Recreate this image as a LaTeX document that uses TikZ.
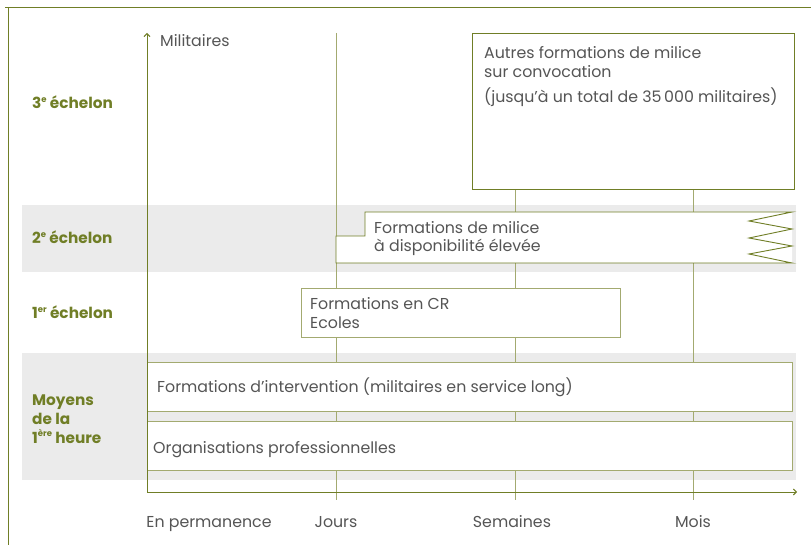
\documentclass[tikz,border=0pt]{standalone}
\usepackage{fontspec}
\setmainfont{Poppins}
\usetikzlibrary{arrows.meta}
\definecolor{oliveD}{RGB}{112,126,38}
\definecolor{oliveL}{RGB}{163,170,112}
\definecolor{band}{RGB}{235,235,235}
\definecolor{txt}{RGB}{85,85,85}
\newcommand{\mysup}[1]{\raisebox{0.42em}{\fontsize{8.5}{9}\selectfont #1}}
\begin{document}
\begin{tikzpicture}[x=1pt,y=-1pt,
  frameline/.style={draw=oliveD,line width=1pt},
  gridline/.style={draw=oliveL,line width=0.9pt},
  boxD/.style={draw=oliveD,line width=0.9pt,fill=white,inner sep=0pt,anchor=north west},
  boxL/.style={draw=oliveL,line width=0.9pt,fill=white,inner sep=0pt,anchor=north west},
  lbl/.style={text=txt,font=\fontsize{15.8}{18}\selectfont,inner sep=0pt,anchor=base west},
  ech/.style={text=oliveD,font=\fontsize{15.3}{18}\selectfont\bfseries,inner sep=0pt,anchor=base west},
  axlbl/.style={text=txt,font=\fontsize{15.8}{18}\selectfont,inner sep=0pt,anchor=base}]
\useasboundingbox (0,0) rectangle (811,545);
% frame
\draw[frameline] (5,8) -- (811,8);
\draw[frameline] (8,8) -- (8,545);
% grey bands
\fill[band] (22,205) rectangle (796,272);
\fill[band] (22,353) rectangle (796,480);
% grid lines
\coordinate (g1t) at (336,33);
\coordinate (g1b) at (336,500);
\coordinate (g2t) at (515,189);
\coordinate (g2b) at (515,500);
\coordinate (g3t) at (693,189);
\coordinate (g3b) at (693,500);
\draw[gridline] (g1t) -- (g1b);
\draw[gridline] (g2t) -- (g2b);
\draw[gridline] (g3t) -- (g3b);
% boxes
\node[boxD,minimum width=322pt,minimum height=156pt] (b3) at (472,33) {};
\fill[white] (336,236) -- (365,236) -- (365,212) -- (792,212) -- (792,263) -- (336,263) -- cycle;
\draw[oliveD,line width=0.9pt,line join=miter] (336,236) -- (365,236) -- (365,212) -- (792,212)
  -- (749,221) -- (792,229) -- (749,238) -- (792,246) -- (749,254) -- (792,263) -- (336,263) -- cycle;
\node[boxL,minimum width=319pt,minimum height=49pt] (b1) at (301,288) {};
\node[boxL,minimum width=645pt,minimum height=49pt] (bi) at (147,362) {};
\node[boxL,minimum width=645pt,minimum height=49pt] (bo) at (147,421) {};
% axes
\coordinate (o) at (147,492);
\coordinate (ytop) at (147,33);
\coordinate (xend) at (797,492);
\draw[frameline,line width=0.9pt,-{Straight Barb[length=3pt,width=6pt]}] (o) -- (ytop);
\draw[frameline,line width=0.9pt,-{Straight Barb[length=3pt,width=6pt]}] (o) -- (xend);
% texts
\node[lbl] (tmil) at (160,47) {Militaires};
\node[lbl] (t3a) at (484,59) {Autres formations de milice};
\node[lbl] (t3b) at (484,78) {sur convocation};
\node[lbl] (t3c) at (484,103) {(jusqu’à un total de 35\,000 militaires)};
\node[lbl] (t2a) at (374,234) {Formations de milice};
\node[lbl] (t2b) at (374,252) {à disponibilité élevée};
\node[lbl] (t1a) at (310,309) {Formations en CR};
\node[lbl] (t1b) at (310,328) {Ecoles};
\node[lbl] (tint) at (157,392) {Formations d’intervention (militaires en service long)};
\node[lbl] (torg) at (153,453) {Organisations professionnelles};
\node[axlbl] (xperm) at (209,527) {En permanence};
\node[axlbl] (xjours) at (336,527) {Jours};
\node[axlbl] (xsem) at (512,527) {Semaines};
\node[axlbl] (xmois) at (693,527) {Mois};
\node[ech] (e3) at (32,109) {3\mysup{e} échelon};
\node[ech] (e2) at (32,244) {2\mysup{e} échelon};
\node[ech] (e1) at (32,319) {1\mysup{er} échelon};
\node[ech] (m1) at (32,405) {Moyens};
\node[ech] (m2) at (32,424) {de la};
\node[ech] (m3) at (32,443) {1\mysup{ère} heure};
\end{tikzpicture}
\end{document}
